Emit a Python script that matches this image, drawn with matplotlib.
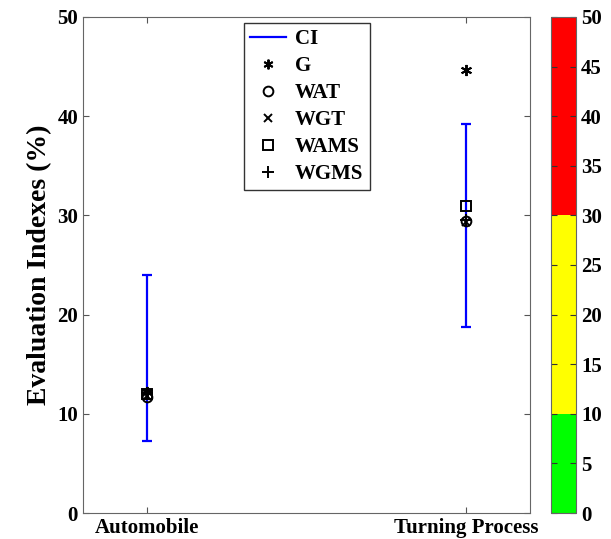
import numpy as np
import matplotlib
matplotlib.use('Agg')
import matplotlib.pyplot as plt
from matplotlib.colors import ListedColormap, BoundaryNorm
from matplotlib.colorbar import ColorbarBase
from matplotlib.lines import Line2D

plt.rcParams['font.family'] = ['Liberation Serif', 'DejaVu Serif']
plt.rcParams['font.weight'] = 'bold'

# data
categories = ['Automobile', 'Turning Process']
ci_low = [7.3, 18.8]
ci_high = [24.0, 39.2]
g_vals = [12.2, 44.7]
wat_vals = [11.7, 29.4]
wgt_vals = [11.8, 29.3]
wams_vals = [12.0, 30.9]
wgms_vals = [12.1, 29.5]

bar_bounds = [0, 10, 30, 50]
bar_colors = ['#00ff00', '#ffff00', '#ff0000']

fig = plt.figure(figsize=(6.11, 5.39), dpi=100)
ax = fig.add_axes([0.1358, 0.0482, 0.7316, 0.9203])

x = np.arange(1, len(categories) + 1)
lo = np.array(ci_low)
hi = np.array(ci_high)
mid = (lo + hi) / 2
ax.errorbar(x, mid, yerr=[mid - lo, hi - mid], fmt='none', ecolor='blue',
            elinewidth=1.6, capsize=3.5, capthick=1.6)

mk = dict(linestyle='none', color='black', markeredgewidth=1.4)
ax.plot(x, g_vals, marker=(6, 2, 0), markersize=8, **mk)
ax.plot(x, wat_vals, marker='o', markersize=7, markerfacecolor='none', **mk)
ax.plot(x, wgt_vals, marker='x', markersize=6, **mk)
ax.plot(x, wams_vals, marker='s', markersize=7, markerfacecolor='none', **mk)
ax.plot(x, wgms_vals, marker='+', markersize=8, **mk)

ax.set_xlim(0.8, 2.2)
ax.set_ylim(0, 50)
ax.set_xticks(x)
ax.set_xticklabels(categories, fontsize=15, fontweight='bold')
ax.set_yticks(np.arange(0, 51, 10))
ax.tick_params(axis='y', labelsize=15)
ax.tick_params(direction='in', top=True, right=True, length=4, color='#555555')
for lab in ax.get_yticklabels():
    lab.set_fontweight('bold')
for s in ax.spines.values():
    s.set_color('#666666')
ax.set_ylabel('Evaluation Indexes (%)', fontsize=20, fontweight='bold', labelpad=4)

handles = [
    Line2D([], [], color='blue', linewidth=1.6),
    Line2D([], [], marker=(6, 2, 0), markersize=7, **mk),
    Line2D([], [], marker='o', markersize=7, markerfacecolor='none', **mk),
    Line2D([], [], marker='x', markersize=6, **mk),
    Line2D([], [], marker='s', markersize=7, markerfacecolor='none', **mk),
    Line2D([], [], marker='+', markersize=8, **mk),
]
leg = ax.legend(handles, ['CI', 'G', 'WAT', 'WGT', 'WAMS', 'WGMS'],
                loc='upper center', bbox_to_anchor=(0.501, 1.0), fancybox=False,
                framealpha=1, edgecolor='#333333', handlelength=1.7,
                handletextpad=0.45, borderaxespad=0.3,
                prop={'size': 15, 'weight': 'bold'}, borderpad=0.3,
                labelspacing=0.33)
leg.get_frame().set_linewidth(1.0)

# colorbar
cax = fig.add_axes([0.9018, 0.0482, 0.041, 0.9203])
cmap = ListedColormap(bar_colors)
norm = BoundaryNorm(bar_bounds, cmap.N)
cb = ColorbarBase(cax, cmap=cmap, norm=norm, boundaries=bar_bounds,
                  ticks=np.arange(0, 51, 5), spacing='proportional')
cb.outline.set_edgecolor('#666666')
cax.tick_params(direction='in', left=True, right=True, length=4, labelsize=15, color='#333333')
for lab in cax.get_yticklabels():
    lab.set_fontweight('bold')

fig.savefig('out.png', dpi=100)
